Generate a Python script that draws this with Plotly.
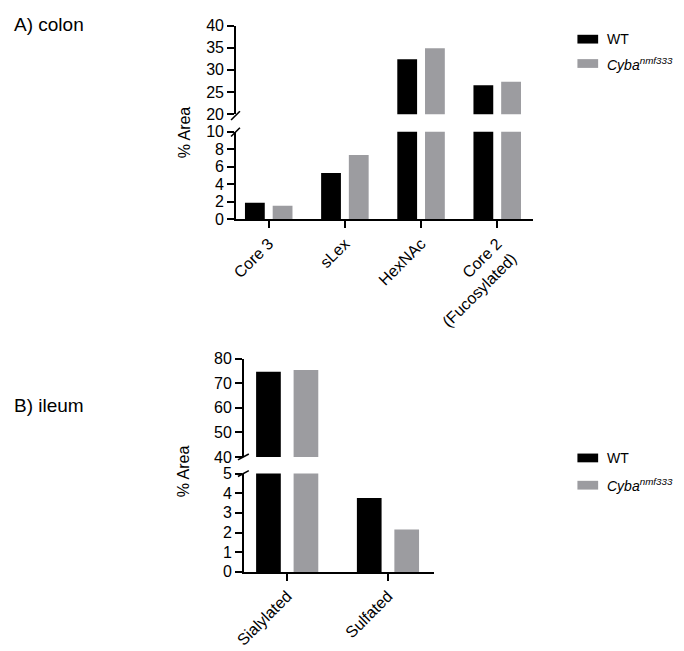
import plotly.graph_objects as go

W, H = 684, 651

# ---------------- data ----------------
colon_categories = ["Core 3", "sLex", "HexNAc", "Core 2<br>(Fucosylated)"]
colon_wt = [1.9, 5.3, 32.4, 26.5]
colon_cyba = [1.55, 7.35, 34.9, 27.3]

ileum_categories = ["Sialylated", "Sulfated"]
ileum_wt = [74.7, 3.76]
ileum_cyba = [75.4, 2.16]

series_names = ["WT", "<i>Cyba<sup>nmf333</sup></i>"]
# ---------------------------------------

BLACK = "#000000"
GRAY = "#9c9ca0"
FONT = "Arial, Liberation Sans, sans-serif"
COLORS = [BLACK, GRAY]


def px_x(p):
    return p / W


def px_y(p):
    return 1 - p / H


fig = go.Figure()

# panel A bar geometry (category units)
wa = 0.26
offa = 0.182
# panel B bar geometry
wb = 0.245
offb = 0.186

for yax in ("y", "y2"):
    fig.add_trace(go.Bar(x=colon_categories, y=colon_wt, name="WT",
                         marker=dict(color=BLACK, line=dict(width=0)),
                         width=wa, offset=-offa - wa / 2,
                         xaxis="x", yaxis=yax, showlegend=False))
    fig.add_trace(go.Bar(x=colon_categories, y=colon_cyba, name="Cyba nmf333",
                         marker=dict(color=GRAY, line=dict(width=0)),
                         width=wa, offset=offa - wa / 2,
                         xaxis="x", yaxis=yax, showlegend=False))

for yax in ("y3", "y4"):
    fig.add_trace(go.Bar(x=ileum_categories, y=ileum_wt, name="WT",
                         marker=dict(color=BLACK, line=dict(width=0)),
                         width=wb, offset=-offb - wb / 2,
                         xaxis="x2", yaxis=yax, showlegend=False))
    fig.add_trace(go.Bar(x=ileum_categories, y=ileum_cyba, name="Cyba nmf333",
                         marker=dict(color=GRAY, line=dict(width=0)),
                         width=wb, offset=offb - wb / 2,
                         xaxis="x2", yaxis=yax, showlegend=False))

axis_common = dict(showline=True, linecolor=BLACK, linewidth=1.6,
                   ticks="outside", ticklen=7, tickwidth=1.6, tickcolor=BLACK,
                   showgrid=False, zeroline=False,
                   tickfont=dict(size=16, color=BLACK, family=FONT))

fig.update_layout(
    width=W, height=H,
    margin=dict(l=0, r=0, t=0, b=0),
    paper_bgcolor="white", plot_bgcolor="white",
    barmode="overlay",
    showlegend=False,
    font=dict(family=FONT, color=BLACK),
    xaxis=dict(domain=[px_x(230), px_x(531)], anchor="y", type="category",
               range=[-0.43, 3.47], tickangle=-45, **axis_common),
    yaxis=dict(domain=[px_y(217), px_y(127)], anchor="x", range=[0, 10],
               dtick=2, **axis_common),
    yaxis2=dict(domain=[px_y(109), px_y(18)], anchor="x", range=[20, 40],
                dtick=5, **axis_common),
    xaxis2=dict(domain=[px_x(238), px_x(431)], anchor="y3", type="category",
                range=[-0.43, 1.46], tickangle=-45, **axis_common),
    yaxis3=dict(domain=[px_y(579), px_y(478)], anchor="x2", range=[0, 5],
                dtick=1, **axis_common),
    yaxis4=dict(domain=[px_y(461), px_y(360)], anchor="x2", range=[40, 80],
                dtick=10, **axis_common),
)

# axis break marks
breaks = [
    ((225, 115), (234, 106)),
    ((225, 132), (234, 123)),
    ((232, 464), (243, 458)),
    ((232, 481), (243, 475)),
]
for (xa, ya), (xb, yb) in breaks:
    fig.add_shape(type="line", xref="paper", yref="paper",
                  x0=px_x(xa), y0=px_y(ya), x1=px_x(xb), y1=px_y(yb),
                  line=dict(color=BLACK, width=1.6))

# legends (one per panel)
for centers in ((32, 57), (462, 490)):
    for name, color, cy in zip(series_names, COLORS, centers):
        fig.add_shape(type="rect", xref="paper", yref="paper",
                      x0=px_x(576), x1=px_x(597), y0=px_y(cy + 4.5), y1=px_y(cy - 4.5),
                      fillcolor=color, line=dict(width=0))
        fig.add_annotation(text=name, x=px_x(604), y=px_y(cy), xref="paper", yref="paper",
                           xanchor="left", yanchor="middle", showarrow=False,
                           font=dict(size=14, family=FONT, color=BLACK))

# titles and y-axis labels
fig.add_annotation(text="A) colon", x=px_x(3), y=px_y(17), xref="paper", yref="paper",
                   xanchor="left", yanchor="middle", showarrow=False,
                   font=dict(size=19, family=FONT, color=BLACK))
fig.add_annotation(text="B) ileum", x=px_x(3), y=px_y(408), xref="paper", yref="paper",
                   xanchor="left", yanchor="middle", showarrow=False,
                   font=dict(size=19, family=FONT, color=BLACK))
fig.add_annotation(text="% Area", x=px_x(178), y=px_y(128), xref="paper", yref="paper",
                   xanchor="center", yanchor="middle",
                   textangle=-90, showarrow=False,
                   font=dict(size=16, family=FONT, color=BLACK))
fig.add_annotation(text="% Area", x=px_x(177), y=px_y(476), xref="paper", yref="paper",
                   xanchor="center", yanchor="middle",
                   textangle=-90, showarrow=False,
                   font=dict(size=16, family=FONT, color=BLACK))

fig.write_html(
    "out.html",
    config={"displayModeBar": False},
    post_script="document.body.style.margin='0';document.body.style.overflow='hidden';",
)
